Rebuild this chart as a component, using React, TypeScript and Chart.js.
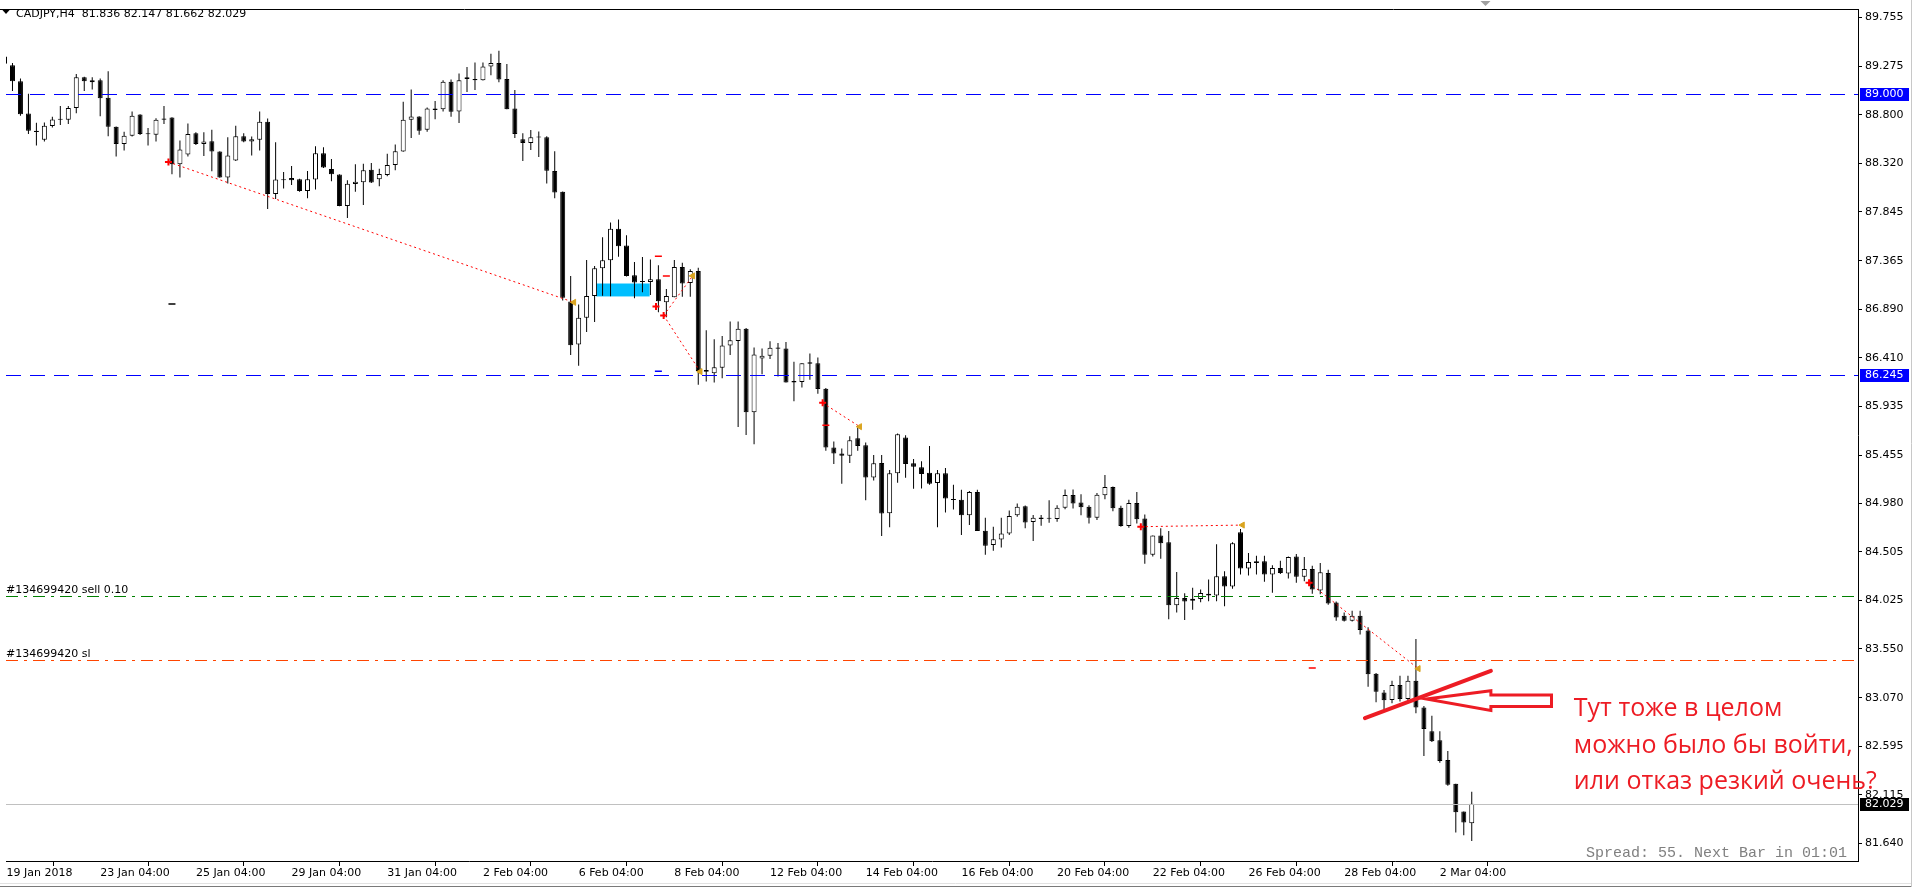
import React, { useEffect, useRef } from 'react';
import { Chart, registerables } from 'chart.js';

Chart.register(...registerables);

// ---------- DATA (H4 bars, left to right) ----------
const symbolName = 'CADJPY,H4';

const opens = [
  89.373, 89.285, 89.129, 88.812, 88.643, 88.555, 88.688, 88.750, 88.750, 88.867,
  89.168, 89.120, 89.139, 88.967, 88.682, 88.513, 88.594, 88.802, 88.614, 88.604,
  88.763, 88.773, 88.312, 88.409, 88.617, 88.513, 88.539, 88.439, 88.182, 88.351,
  88.588, 88.536, 88.555, 88.730, 88.020, 88.157, 88.179, 88.166, 88.049, 88.163,
  88.422, 88.267, 88.212, 87.904, 88.118, 88.137, 88.260, 88.166, 88.208, 88.306,
  88.439, 88.750, 88.782, 88.653, 88.860, 88.854, 89.123, 88.831, 89.152, 89.152,
  89.139, 89.275, 89.308, 89.152, 88.860, 88.559, 88.523, 88.575, 88.578, 88.247,
  88.043, 86.963, 86.542, 86.804, 87.018, 87.291, 87.369, 87.680, 87.515, 87.223,
  87.158, 87.155, 87.184, 86.956, 87.005, 87.304, 87.145, 87.265, 86.291, 86.260,
  86.314, 86.532, 86.577, 86.697, 85.876, 86.405, 86.431, 86.512, 86.503, 86.182,
  86.172, 86.366, 86.357, 86.107, 85.530, 85.471, 85.448, 85.620, 85.552, 85.234,
  85.377, 84.884, 85.277, 85.627, 85.374, 85.335, 85.280, 85.180, 85.277, 85.017,
  85.017, 84.864, 85.092, 84.712, 84.572, 84.625, 84.683, 84.864, 84.952, 84.796,
  84.842, 84.829, 84.826, 84.936, 85.063, 84.988, 84.946, 84.839, 85.059, 85.141,
  84.936, 84.757, 84.985, 84.832, 84.475, 84.664, 84.599, 83.979, 84.051, 84.022,
  84.041, 84.092, 84.076, 84.265, 84.164, 84.696, 84.339, 84.411, 84.411, 84.281,
  84.346, 84.290, 84.459, 84.258, 84.336, 84.125, 84.297, 84.005, 83.876, 83.827,
  83.876, 83.730, 83.307, 83.122, 83.049, 83.194, 83.058, 83.236, 82.974, 82.740,
  82.653, 82.458, 82.225, 81.952, 81.836,
];
const highs = [
  89.395, 89.308, 89.155, 89.006, 88.721, 88.724, 88.779, 88.886, 88.886, 89.201,
  89.172, 89.168, 89.155, 89.227, 88.685, 88.633, 88.831, 88.805, 88.669, 88.766,
  88.886, 88.776, 88.546, 88.714, 88.627, 88.627, 88.653, 88.442, 88.578, 88.692,
  88.617, 88.585, 88.831, 88.763, 88.530, 88.238, 88.296, 88.170, 88.247, 88.491,
  88.481, 88.364, 88.215, 88.157, 88.312, 88.319, 88.325, 88.270, 88.416, 88.507,
  88.928, 89.048, 88.785, 88.870, 88.935, 89.139, 89.146, 89.204, 89.269, 89.314,
  89.314, 89.399, 89.428, 89.298, 89.042, 88.617, 88.649, 88.636, 88.588, 88.442,
  88.046, 87.216, 86.934, 87.372, 87.313, 87.595, 87.741, 87.770, 87.615, 87.352,
  87.401, 87.378, 87.320, 87.086, 87.372, 87.346, 87.281, 87.297, 86.681, 86.593,
  86.625, 86.768, 86.768, 86.703, 86.512, 86.503, 86.574, 86.557, 86.567, 86.372,
  86.357, 86.454, 86.415, 86.114, 85.588, 85.520, 85.640, 85.740, 85.578, 85.455,
  85.455, 85.309, 85.666, 85.649, 85.416, 85.393, 85.545, 85.309, 85.329, 85.163,
  85.115, 85.102, 85.115, 84.839, 84.751, 84.839, 84.910, 84.978, 84.959, 84.865,
  84.865, 85.010, 84.962, 85.117, 85.117, 85.069, 84.962, 85.082, 85.260, 85.147,
  84.956, 85.017, 85.092, 84.871, 84.664, 84.735, 84.709, 84.307, 84.096, 84.151,
  84.135, 84.232, 84.579, 84.313, 84.599, 84.728, 84.492, 84.465, 84.465, 84.372,
  84.417, 84.459, 84.482, 84.453, 84.368, 84.394, 84.329, 84.015, 83.908, 83.924,
  83.924, 83.762, 83.314, 83.146, 83.236, 83.285, 83.285, 83.648, 82.990, 82.893,
  82.740, 82.546, 82.225, 81.952, 82.147,
];
const lows = [
  89.292, 89.032, 88.789, 88.611, 88.497, 88.536, 88.675, 88.698, 88.708, 88.815,
  89.032, 89.048, 88.786, 88.588, 88.390, 88.448, 88.585, 88.601, 88.497, 88.536,
  88.708, 88.215, 88.182, 88.390, 88.503, 88.393, 88.244, 88.180, 88.124, 88.345,
  88.530, 88.400, 88.448, 87.874, 87.972, 88.075, 88.108, 88.043, 87.978, 88.066,
  88.277, 88.147, 87.900, 87.784, 88.043, 87.913, 88.130, 88.098, 88.195, 88.254,
  88.436, 88.572, 88.604, 88.633, 88.756, 88.831, 88.779, 88.718, 89.022, 89.042,
  89.136, 89.188, 89.120, 88.854, 88.572, 88.345, 88.452, 88.384, 88.124, 87.978,
  86.973, 86.438, 86.333, 86.664, 86.762, 87.021, 87.015, 87.404, 87.209, 86.995,
  87.054, 87.028, 86.859, 86.810, 87.005, 87.011, 87.011, 86.146, 86.178, 86.168,
  86.211, 86.438, 85.730, 85.652, 85.562, 86.250, 86.399, 86.226, 86.168, 85.983,
  86.119, 86.194, 86.058, 85.497, 85.367, 85.173, 85.377, 85.497, 85.010, 85.205,
  84.660, 84.745, 85.182, 85.231, 85.124, 85.127, 85.163, 84.745, 84.890, 84.920,
  84.670, 84.767, 84.709, 84.475, 84.514, 84.547, 84.670, 84.849, 84.735, 84.611,
  84.761, 84.790, 84.800, 84.923, 84.930, 84.864, 84.783, 84.816, 85.020, 84.903,
  84.751, 84.741, 84.783, 84.387, 84.459, 84.436, 83.842, 83.908, 83.833, 83.934,
  84.008, 84.018, 84.018, 83.969, 84.141, 84.281, 84.271, 84.281, 84.209, 84.102,
  84.287, 84.242, 84.200, 84.216, 84.093, 84.086, 83.985, 83.827, 83.820, 83.820,
  83.691, 83.178, 83.025, 82.951, 83.016, 83.032, 83.025, 82.918, 82.497, 82.636,
  82.432, 82.205, 81.745, 81.719, 81.662,
];
const closes = [
  89.300, 89.129, 88.805, 88.643, 88.630, 88.692, 88.753, 88.756, 88.867, 89.168,
  89.129, 89.139, 88.961, 88.682, 88.513, 88.594, 88.789, 88.611, 88.608, 88.750,
  88.750, 88.312, 88.458, 88.611, 88.513, 88.536, 88.439, 88.182, 88.400, 88.588,
  88.536, 88.559, 88.730, 88.020, 88.163, 88.160, 88.157, 88.049, 88.166, 88.422,
  88.280, 88.215, 87.904, 88.121, 88.140, 88.254, 88.134, 88.218, 88.306, 88.442,
  88.750, 88.782, 88.643, 88.860, 88.847, 89.123, 88.828, 89.139, 89.168, 89.139,
  89.275, 89.308, 89.146, 88.854, 88.611, 88.523, 88.578, 88.578, 88.250, 88.036,
  87.002, 86.535, 86.804, 87.018, 87.291, 87.369, 87.680, 87.508, 87.216, 87.151,
  87.155, 87.184, 86.966, 87.018, 87.304, 87.141, 87.265, 86.282, 86.275, 86.318,
  86.532, 86.583, 86.697, 85.876, 86.444, 86.431, 86.509, 86.499, 86.168, 86.168,
  86.357, 86.353, 86.104, 85.530, 85.471, 85.448, 85.601, 85.545, 85.234, 85.374,
  84.881, 85.277, 85.659, 85.367, 85.341, 85.270, 85.173, 85.277, 85.027, 85.014,
  84.864, 85.092, 84.709, 84.563, 84.628, 84.683, 84.856, 84.946, 84.793, 84.839,
  84.826, 84.832, 84.936, 85.063, 84.978, 84.942, 84.839, 85.066, 85.141, 84.932,
  84.757, 84.985, 84.825, 84.475, 84.664, 84.589, 83.979, 84.051, 84.015, 84.044,
  84.099, 84.076, 84.265, 84.164, 84.589, 84.339, 84.404, 84.394, 84.281, 84.346,
  84.297, 84.453, 84.258, 84.336, 84.135, 84.304, 83.995, 83.859, 83.827, 83.876,
  83.736, 83.302, 83.129, 83.045, 83.194, 83.058, 83.236, 82.974, 82.762, 82.643,
  82.448, 82.215, 81.945, 81.843, 82.029,
];

const priceTicks = [89.755, 89.275, 88.8, 88.32, 87.845, 87.365, 86.89, 86.41, 85.935, 85.455,
  84.98, 84.505, 84.025, 83.55, 83.07, 82.595, 82.115, 81.64];
const xTickBars = [0.25, 12, 24, 36, 48, 60, 72, 84, 96, 108, 120, 132, 144, 156, 168, 180];
const xTickLabels = ['19 Jan 2018', '23 Jan 04:00', '25 Jan 04:00', '29 Jan 04:00', '31 Jan 04:00',
  '2 Feb 04:00', '6 Feb 04:00', '8 Feb 04:00', '12 Feb 04:00', '14 Feb 04:00', '16 Feb 04:00',
  '20 Feb 04:00', '22 Feb 04:00', '26 Feb 04:00', '28 Feb 04:00', '2 Mar 04:00'];

const X_MIN = 0.1875;
const X_MAX = 232.4375;
const Y_MIN = 81.4655;
const Y_MAX = 89.833;

// horizontal levels
const levelPrices = [89.0, 86.245, 84.07, 83.438];
const levelColors = ['#0000FF', '#0000FF', '#008000', '#FF4500'];
const levelDashes = [[15, 9], [15, 9], [12, 6, 3, 6], [12, 6, 3, 6]];
const levelTexts = ['', '', '#134699420 sell 0.10', '#134699420 sl'];
const boxedLevels = [89.0, 86.245];

// trade history marks
const entryBars = [20.56, 81.7, 82.66, 102.6, 142.5, 163.6];
const entryPrices = [88.335, 86.914, 86.827, 85.968, 84.751, 84.2];
const exitBars = [71.4, 86.3, 87.25, 107.25, 155.25, 177.3];
const exitPrices = [86.956, 87.216, 86.275, 85.734, 84.767, 83.356];
const linkEntry = [0, 2, 2, 3, 4, 5];
const linkExit = [0, 1, 2, 3, 4, 5];
const markBars = [21, 82, 83, 82, 103, 164];
const markPrices = [86.94, 87.408, 87.216, 86.279, 85.747, 83.363];
const markColors = ['#000000', '#FF0000', '#FF0000', '#0000FF', '#FF0000', '#FF0000'];

// zone rectangle
const zoneBars = [74.2, 80.9];
const zonePrices = [87.014, 87.141];

// hand-drawn note
const noteLineBars = [170.6, 186.4];
const noteLinePrices = [82.87, 83.334];
const arrowBars = [178.3, 186.4, 194.0]; // tip, head base, tail
const arrowPrices = [83.058, 83.139, 83.097, 82.983, 82.944]; // tip, head top, shaft top, shaft bottom, head bottom
const noteTextBar = 196.8;
const noteTextPrices = [82.886, 82.526, 82.176];
const noteTexts = ['Тут тоже в целом', 'можно было бы войти,', 'или отказ резкий очень?'];
const spreadText = 'Spread: 55. Next Bar in 01:01';
const shiftMarkerBar = 185.6;

const NOTE_RED = '#ED1C24';
const AXIS_FONT = '11px "DejaVu Sans"';

export default function App() {
  const ref = useRef<HTMLCanvasElement>(null);

  useEffect(() => {
    const canvas = ref.current;
    if (!canvas) return;
    const n = opens.length;
    const lastIdx = n - 1;
    const up = opens.map((o, k) => closes[k] >= o);

    const wickData = opens.map((_, k) => ({ x: k, y: [lows[k], highs[k]] }));
    const bodyData = opens.map((o, k) => ({ x: k, y: [o, closes[k]] }));

    const datasets: any[] = [
      {
        type: 'bar', data: wickData, backgroundColor: '#000', borderWidth: 0,
        barThickness: 1, grouped: false, order: 6, minBarLength: 1, inflateAmount: 0,
      },
      {
        type: 'bar', data: bodyData,
        backgroundColor: up.map((u) => (u ? '#FFFFFF' : '#000000')),
        borderColor: '#000', borderWidth: 1, borderSkipped: false,
        barThickness: 5, grouped: false, order: 5, minBarLength: 1, inflateAmount: 0,
      },
    ];
    linkEntry.forEach((e, j) => {
      const x = linkExit[j];
      datasets.push({
        type: 'line',
        data: [{ x: entryBars[e], y: entryPrices[e] }, { x: exitBars[x], y: exitPrices[x] }],
        borderColor: '#FF0000', borderDash: [2, 3], borderWidth: 1, pointRadius: 0, order: 3,
      });
    });
    datasets.push({
      type: 'line', showLine: false,
      data: markBars.map((b, j) => ({ x: b, y: markPrices[j] })),
      pointStyle: 'line', pointRadius: 3.5, pointBorderWidth: 1.5,
      pointBorderColor: markColors, pointBackgroundColor: markColors, order: 2,
    });
    datasets.push({
      type: 'line', showLine: false,
      data: exitBars.map((b, j) => ({ x: b, y: exitPrices[j] })),
      pointStyle: 'triangle', pointRotation: -90, pointRadius: 3.5, pointBorderWidth: 1,
      pointBorderColor: '#DAA520', pointBackgroundColor: '#DAA520', order: 1,
    });
    datasets.push({
      type: 'line', showLine: false,
      data: entryBars.map((b, j) => ({ x: b, y: entryPrices[j] })),
      pointStyle: 'cross', pointRadius: 3.5, pointBorderWidth: 2,
      pointBorderColor: '#FF0000', order: 0,
    });

    const overlay = {
      id: 'overlay',
      beforeDraw(chart: any) {
        const ctx = chart.ctx;
        ctx.save();
        ctx.fillStyle = '#FFFFFF';
        ctx.fillRect(0, 0, chart.width, chart.height);
        ctx.restore();
      },
      beforeDatasetsDraw(chart: any) {
        const ctx = chart.ctx;
        const xs = chart.scales.x, ys = chart.scales.y;
        const x0 = xs.getPixelForValue(zoneBars[0]);
        const x1 = xs.getPixelForValue(zoneBars[1]);
        const y0 = ys.getPixelForValue(zonePrices[1]);
        const y1 = ys.getPixelForValue(zonePrices[0]);
        ctx.save();
        ctx.fillStyle = '#00BFFF';
        ctx.fillRect(x0, y0, x1 - x0, y1 - y0);
        ctx.restore();
      },
      afterDatasetsDraw(chart: any) {
        const ctx = chart.ctx;
        const ys = chart.scales.y;
        const area = chart.chartArea;
        ctx.save();
        ctx.lineWidth = 1;
        const hline = (p: number, color: string, dash: number[]) => {
          const y = Math.round(ys.getPixelForValue(p)) + 0.5;
          ctx.strokeStyle = color;
          ctx.setLineDash(dash);
          ctx.beginPath();
          ctx.moveTo(area.left, y);
          ctx.lineTo(area.right, y);
          ctx.stroke();
        };
        hline(closes[closes.length - 1], '#C0C0C0', []);
        levelPrices.forEach((p, j) => hline(p, levelColors[j], levelDashes[j]));
        ctx.setLineDash([]);
        ctx.restore();
      },
      afterDraw(chart: any) {
        const ctx = chart.ctx;
        const xs = chart.scales.x, ys = chart.scales.y;
        const X = (v: number) => xs.getPixelForValue(v);
        const Y = (v: number) => ys.getPixelForValue(v);
        const area = chart.chartArea;
        ctx.save();

        // top frame
        ctx.strokeStyle = '#000';
        ctx.lineWidth = 1;
        ctx.beginPath();
        ctx.moveTo(0, Math.round(area.top) - 0.5);
        ctx.lineTo(area.right, Math.round(area.top) - 0.5);
        ctx.stroke();

        // header
        ctx.fillStyle = '#000';
        ctx.beginPath();
        ctx.moveTo(2, 9.5); ctx.lineTo(10, 9.5); ctx.lineTo(6, 14); ctx.closePath();
        ctx.fill();
        ctx.font = AXIS_FONT;
        ctx.textBaseline = 'alphabetic';
        ctx.textAlign = 'left';
        const ohlc = [opens[lastIdx], highs[lastIdx], lows[lastIdx], closes[lastIdx]]
          .map((v) => v.toFixed(3)).join(' ');
        ctx.fillText(symbolName + '  ' + ohlc, 16, 17);

        // chart shift marker
        const sx = Math.round(X(shiftMarkerBar)) + 0.5;
        ctx.fillStyle = '#A0A0A0';
        ctx.beginPath();
        ctx.moveTo(sx - 5, 1); ctx.lineTo(sx + 5, 1); ctx.lineTo(sx, 6); ctx.closePath();
        ctx.fill();

        // level labels
        ctx.fillStyle = '#000';
        ctx.font = AXIS_FONT;
        levelPrices.forEach((p, j) => {
          if (levelTexts[j]) ctx.fillText(levelTexts[j], 6, Math.round(Y(p)) - 3);
        });

        // spread text
        ctx.font = '15px "Liberation Mono"';
        ctx.fillStyle = '#808080';
        ctx.textAlign = 'right';
        ctx.fillText(spreadText, area.right - 11, area.bottom - 4);
        ctx.textAlign = 'left';

        // price boxes on axis
        const drawBox = (p: number, bg: string) => {
          const yc = Math.round(Y(p));
          ctx.fillStyle = bg;
          ctx.fillRect(area.right + 2, yc - 6, 49, 13);
          ctx.fillStyle = '#FFFFFF';
          ctx.font = AXIS_FONT;
          ctx.textBaseline = 'middle';
          ctx.fillText(p.toFixed(3), area.right + 7, yc + 0.5);
          ctx.textBaseline = 'alphabetic';
        };
        boxedLevels.forEach((p) => drawBox(p, '#0000FF'));
        drawBox(closes[lastIdx], '#000000');

        // hand-drawn red line
        ctx.strokeStyle = NOTE_RED;
        ctx.lineWidth = 4;
        ctx.lineCap = 'round';
        ctx.beginPath();
        ctx.moveTo(X(noteLineBars[0]), Y(noteLinePrices[0]));
        ctx.lineTo(X(noteLineBars[1]), Y(noteLinePrices[1]));
        ctx.stroke();

        // hollow arrow
        ctx.lineWidth = 3;
        ctx.lineCap = 'butt';
        ctx.lineJoin = 'miter';
        ctx.beginPath();
        ctx.moveTo(X(arrowBars[0]), Y(arrowPrices[0]));
        ctx.lineTo(X(arrowBars[1]), Y(arrowPrices[1]));
        ctx.lineTo(X(arrowBars[1]), Y(arrowPrices[2]));
        ctx.lineTo(X(arrowBars[2]), Y(arrowPrices[2]));
        ctx.lineTo(X(arrowBars[2]), Y(arrowPrices[3]));
        ctx.lineTo(X(arrowBars[1]), Y(arrowPrices[3]));
        ctx.lineTo(X(arrowBars[1]), Y(arrowPrices[4]));
        ctx.closePath();
        ctx.stroke();

        // note text
        ctx.fillStyle = NOTE_RED;
        ctx.font = '25px "Open Sans"';
        noteTexts.forEach((t, j) => ctx.fillText(t, X(noteTextBar), Y(noteTextPrices[j])));

        // window chrome
        ctx.lineWidth = 1;
        ctx.strokeStyle = '#E2E2E2';
        ctx.beginPath(); ctx.moveTo(0, 883.5); ctx.lineTo(1911, 883.5); ctx.stroke();
        ctx.strokeStyle = '#7A7A7A';
        ctx.beginPath(); ctx.moveTo(0, 886.5); ctx.lineTo(1912, 886.5); ctx.stroke();
        ctx.strokeStyle = '#C8C8C8';
        ctx.beginPath(); ctx.moveTo(1911.5, 0); ctx.lineTo(1911.5, 887); ctx.stroke();

        ctx.restore();
      },
    };

    const chart = new Chart(canvas, {
      type: 'bar',
      data: { datasets },
      options: {
        animation: false,
        responsive: false,
        maintainAspectRatio: false,
        devicePixelRatio: 1,
        events: [],
        layout: { padding: { top: 1, left: 0, right: 0, bottom: 0 } },
        plugins: { legend: { display: false }, tooltip: { enabled: false } },
        scales: {
          x: {
            type: 'linear', min: X_MIN, max: X_MAX, offset: false, position: 'bottom',
            grid: { display: true, drawOnChartArea: false, drawTicks: true, tickLength: 5, color: '#000' },
            border: { display: true, color: '#000' },
            afterBuildTicks: (s: any) => { s.ticks = xTickBars.map((v) => ({ value: v })); },
            afterFit: (s: any) => { s.height = 27; },
            ticks: {
              autoSkip: false, maxRotation: 0, minRotation: 0, align: 'start', padding: 1,
              font: { family: 'DejaVu Sans', size: 11 }, color: '#000',
              callback: (_v: any, i: number) => xTickLabels[i],
            },
          },
          y: {
            type: 'linear', position: 'right', min: Y_MIN, max: Y_MAX,
            grid: { display: true, drawOnChartArea: false, drawTicks: true, tickLength: 4, color: '#000' },
            border: { display: true, color: '#000' },
            afterBuildTicks: (s: any) => { s.ticks = priceTicks.map((v) => ({ value: v })); },
            afterFit: (s: any) => { s.width = 56; },
            ticks: {
              padding: 3, font: { family: 'DejaVu Sans', size: 11 }, color: '#000',
              callback: (v: any) => Number(v).toFixed(3),
            },
          },
        },
      } as any,
      plugins: [overlay],
    });

    return () => chart.destroy();
  }, []);

  return (
    <div style={{ position: 'fixed', left: 0, top: 0, width: 1914, height: 888, background: '#fff' }}>
      <canvas ref={ref} width={1914} height={888} style={{ display: 'block', width: 1914, height: 888 }} />
    </div>
  );
}
